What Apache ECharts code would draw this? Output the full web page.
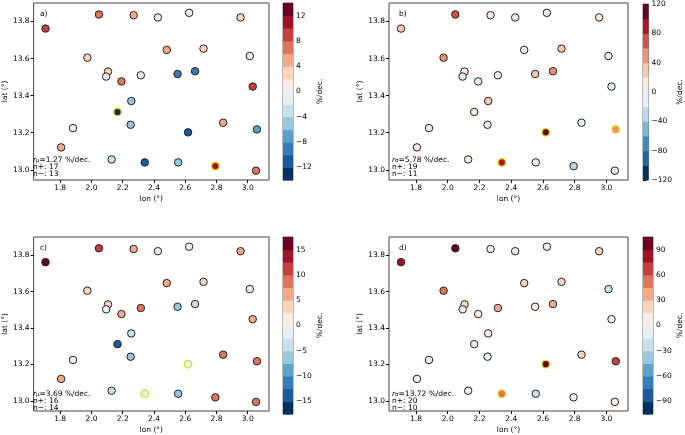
<!DOCTYPE html>
<html><head><meta charset="utf-8">
<script src="https://cdn.jsdelivr.net/npm/echarts@6/dist/echarts.min.js"></script>
<style>html,body{margin:0;padding:0;background:#fff}#c{width:685px;height:435px}</style>
</head><body><div id="c"></div>
<script>
// ---- data ----
const lon = [1.706, 2.048, 2.270, 2.425, 2.625, 2.954, 1.974, 2.482, 2.717, 3.013, 2.106, 2.094, 2.192, 2.316, 2.551, 2.663, 3.032, 2.255, 2.167, 2.251, 1.882, 2.843, 2.618, 3.059, 1.806, 2.129, 2.341, 2.555, 2.793, 3.053];
const lat = [13.762, 13.838, 13.834, 13.822, 13.847, 13.822, 13.605, 13.647, 13.654, 13.614, 13.530, 13.503, 13.477, 13.510, 13.517, 13.532, 13.449, 13.371, 13.312, 13.243, 13.225, 13.254, 13.202, 13.218, 13.121, 13.056, 13.040, 13.040, 13.020, 12.995];
const valsA = [9, 7, 5, -1, 1, 3, 3, 5, 3, 1, 3, -1, 7, 1, -9, -9, 9, -5, -13, -5, -1, 5, -11, -7, 5, -3, -11, -5, 11, 7];
const valsB = [30, 70, 10, -10, -10, 10, 50, 10, 30, -10, 10, -10, -10, 10, 30, 50, -10, 30, 10, -10, 10, -10, 110, 50, 10, 10, 90, -10, -30, -10];
const valsC = [16, 11, 6, -1, -1, 6, 4, 6, 4, -1, 4, -1, 6, 9, -6, -4, 6, -4, -13, -6, -1, 9, -1, 9, 6, -4, -1, -6, 9, 9];
const valsD = [82, 97, 7, -7, -7, 22, 52, 22, 22, -22, 22, -7, 7, 37, 7, 37, -7, 7, -7, -7, 7, 22, 97, 67, 7, -7, 52, -22, -7, 7];
const flagA = [18, 28];
const flagB = [22, 23, 26];
const flagC = [22, 26];
const flagD = [22, 26];
const boundsA = [-14, -12, -10, -8, -6, -4, -2, 0, 2, 4, 6, 8, 10, 12, 14];
const boundsB = [-120, -100, -80, -60, -40, -20, 0, 20, 40, 60, 80, 100, 120];
const boundsC = [-17.5, -15, -12.5, -10, -7.5, -5, -2.5, 0, 2.5, 5, 7.5, 10, 12.5, 15, 17.5];
const boundsD = [-105, -90, -75, -60, -45, -30, -15, 0, 15, 30, 45, 60, 75, 90, 105];
const ticksA = [-12, -8, -4, 0, 4, 8, 12];
const ticksB = [-120, -80, -40, 0, 40, 80, 120];
const ticksC = [-15, -10, -5, 0, 5, 10, 15];
const ticksD = [-90, -60, -30, 0, 30, 60, 90];
const lonTicks = [1.8, 2.0, 2.2, 2.4, 2.6, 2.8, 3.0];
const latTicks = [13.0, 13.2, 13.4, 13.6, 13.8];
const panelLabels = ['a)', 'b)', 'c)', 'd)'];
const rSym = ['μ', 'σ', 'μ', 'σ'];
const rVal = ['1.27', '5.78', '3.69', '13.72'];
const nPlus = [17, 19, 16, 20];
const nMinus = [13, 11, 14, 10];

// ---- colormap RdBu_r ----
const anchors = ['#053061','#2166ac','#4393c3','#92c5de','#d1e5f0','#f7f7f7','#fddbc7','#f4a582','#d6604d','#b2182b','#67001f'];
function hex2rgb(h){return [parseInt(h.substr(1,2),16),parseInt(h.substr(3,2),16),parseInt(h.substr(5,2),16)];}
function rdbu(t){
  t = Math.max(0, Math.min(1, t));
  const p = t * 10, i = Math.min(9, Math.floor(p)), f = p - i;
  const a = hex2rgb(anchors[i]), b = hex2rgb(anchors[i+1]);
  return 'rgb(' + a.map((v,k)=>Math.round(v + (b[k]-v)*f)).join(',') + ')';
}
function colorFor(v, bounds){
  const n = bounds.length - 1;
  let idx = 0;
  for (let k = 0; k < n; k++) if (v >= bounds[k]) idx = k;
  return rdbu(idx / (n - 1));
}

const FONT = 'DejaVu Sans';
const minus = s => String(s).replace('-', '\u2212');
const plots = [
  {vals: valsA, flags: flagA, bounds: boundsA, ticks: ticksA, left: 30, top: 3, cbLeft: 283, nameGap: 19},
  {vals: valsB, flags: flagB, bounds: boundsB, ticks: ticksB, left: 389, top: 3, cbLeft: 643, nameGap: 25},
  {vals: valsC, flags: flagC, bounds: boundsC, ticks: ticksC, left: 30, top: 237, cbLeft: 283, nameGap: 19},
  {vals: valsD, flags: flagD, bounds: boundsD, ticks: ticksD, left: 389, top: 237, cbLeft: 643, nameGap: 22}
];
const W = 239, H = 177;
const grid = [], xAxis = [], yAxis = [], series = [], title = [];
const axisTxt = {color: '#000', fontFamily: FONT, fontSize: 7.5};

plots.forEach((p, i) => {
  const gi = grid.length;
  grid.push({left: p.left, top: p.top, width: W, height: H, show: true, borderColor: '#444', borderWidth: 1, backgroundColor: 'transparent'});
  xAxis.push({type: 'value', gridIndex: gi, min: 1.63, max: 3.136, splitLine: {show: false},
    axisLine: {show: false},
    axisTick: {show: true, length: 3, lineStyle: {color: '#000'}, customValues: lonTicks},
    axisLabel: Object.assign({customValues: lonTicks, margin: 4, formatter: v => v.toFixed(1)}, axisTxt),
    name: 'lon (°)', nameLocation: 'middle', nameGap: 15, nameTextStyle: axisTxt});
  yAxis.push({type: 'value', gridIndex: gi, min: 12.945, max: 13.9, splitLine: {show: false},
    axisLine: {show: false},
    axisTick: {show: true, length: 3, lineStyle: {color: '#000'}, customValues: latTicks},
    axisLabel: Object.assign({customValues: latTicks, margin: 4, formatter: v => v.toFixed(1)}, axisTxt),
    name: 'lat (°)', nameLocation: 'middle', nameGap: 21, nameRotate: 90, nameTextStyle: axisTxt});
  const data = lon.map((x, k) => {
    const flagged = p.flags.includes(k);
    return {value: [x, lat[k], p.vals[k]],
      itemStyle: {color: colorFor(p.vals[k], p.bounds), borderColor: flagged ? '#e0dc10' : '#222', borderWidth: flagged ? 1.3 : 1}};
  });
  series.push({type: 'scatter', xAxisIndex: gi, yAxisIndex: gi, symbolSize: 7.5, data: data,
    itemStyle: {opacity: 1}, emphasis: {disabled: true}, animation: false});
  // colorbar
  const ci = grid.length;
  grid.push({left: p.cbLeft, top: p.top, width: 10, height: H, show: true, borderColor: '#555', borderWidth: 0.8, backgroundColor: 'transparent'});
  xAxis.push({type: 'value', gridIndex: ci, min: 0, max: 1, show: false});
  const bmin = p.bounds[0], bmax = p.bounds[p.bounds.length - 1];
  yAxis.push({type: 'value', gridIndex: ci, position: 'right', min: bmin, max: bmax, splitLine: {show: false},
    axisLine: {show: false},
    axisTick: {show: true, length: 3, lineStyle: {color: '#000'}, customValues: p.ticks},
    axisLabel: Object.assign({customValues: p.ticks, margin: 3, formatter: v => minus(v)}, axisTxt),
    name: '%/dec.', nameLocation: 'middle', nameGap: p.nameGap, nameRotate: 90, nameTextStyle: axisTxt});
  const n = p.bounds.length - 1;
  const cbData = [];
  for (let k = 0; k < n; k++) cbData.push([p.bounds[k], p.bounds[k+1], k / (n - 1)]);
  series.push({type: 'custom', xAxisIndex: ci, yAxisIndex: ci, data: cbData, silent: true, animation: false,
    renderItem: (params, api) => {
      const a = api.coord([0, api.value(0)]), b = api.coord([1, api.value(1)]);
      return {type: 'rect', shape: {x: a[0], y: b[1], width: b[0] - a[0], height: a[1] - b[1] + 0.5},
        style: {fill: rdbu(api.value(2))}};
    }});
  // panel label
  title.push({text: panelLabels[i], left: p.left + 5, top: p.top + 2,
    textStyle: {fontFamily: FONT, fontSize: 7.5, fontWeight: 'normal', color: '#000'}});
  // annotation
  title.push({left: p.left + 3, top: p.top + 154, padding: 0,
    text: '{it|r}{sub|' + rSym[i] + '}{n|=' + rVal[i] + ' %/dec.}\n{n|n+: ' + nPlus[i] + '}\n{n|n\u2212: ' + nMinus[i] + '}',
    textStyle: {fontFamily: FONT, fontSize: 7.5, fontWeight: 'normal', color: '#000', lineHeight: 7,
      rich: {
        it: {fontFamily: FONT, fontSize: 7.5, fontStyle: 'italic', color: '#000', lineHeight: 7},
        sub: {fontFamily: FONT, fontSize: 5.5, color: '#000', verticalAlign: 'bottom', lineHeight: 7},
        n: {fontFamily: FONT, fontSize: 7.5, color: '#000', lineHeight: 7}
      }}});
});

const chart = echarts.init(document.getElementById('c'), null, {renderer: 'canvas'});
chart.setOption({animation: false, backgroundColor: '#fff', title, grid, xAxis, yAxis, series});
</script></body></html>
